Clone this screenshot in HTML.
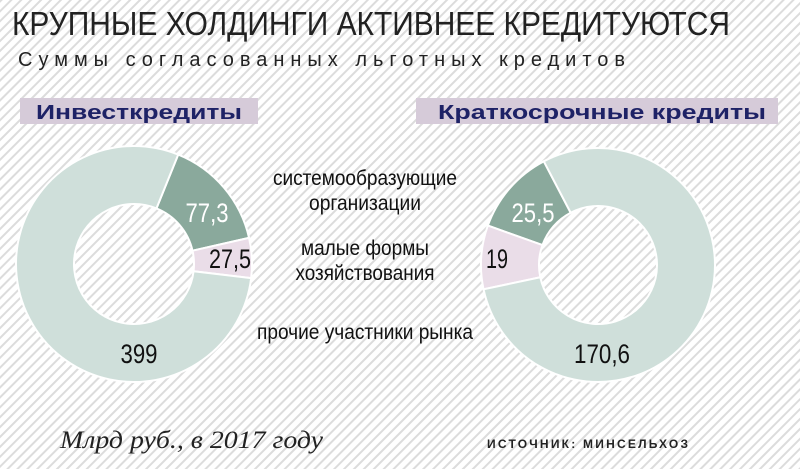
<!DOCTYPE html>
<html><head><meta charset="utf-8"><style>
html,body{margin:0;padding:0;background:#fff;}
svg{display:block;}
text{font-family:"Liberation Sans","Noto Sans CJK SC",sans-serif;}
</style></head><body>
<svg id="s" width="800" height="469" viewBox="0 0 800 469" xmlns="http://www.w3.org/2000/svg">
<defs>
<pattern id="st" width="7" height="7" patternUnits="userSpaceOnUse" patternTransform="rotate(45)">
<rect width="7" height="7" fill="#fff"/>
<rect x="0" y="0" width="2" height="7" fill="#dcdcdc"/>
</pattern>
</defs>
<rect width="800" height="469" fill="url(#st)"/>
<text x="12" y="35" font-size="33" fill="#222" textLength="718" lengthAdjust="spacingAndGlyphs">КРУПНЫЕ ХОЛДИНГИ АКТИВНЕЕ КРЕДИТУЮТСЯ</text>
<text x="18" y="66" font-size="20" fill="#222" textLength="607" lengthAdjust="spacing">Суммы согласованных льготных кредитов</text>
<rect x="20" y="98" width="238" height="26" fill="#d6cbd9"/>
<text x="36" y="119" font-size="20" font-weight="bold" fill="#1e2266" textLength="206" lengthAdjust="spacingAndGlyphs">Инвесткредиты</text>
<rect x="416" y="98" width="362" height="26" fill="#d6cbd9"/>
<text x="438" y="119" font-size="20" font-weight="bold" fill="#1e2266" textLength="328" lengthAdjust="spacingAndGlyphs">Краткосрочные кредиты</text>
<g id="donuts"></g>
<g font-size="21" fill="#111" text-anchor="middle">
<text x="365" y="185" textLength="184" lengthAdjust="spacingAndGlyphs">системообразующие</text>
<text x="365" y="210" textLength="112" lengthAdjust="spacingAndGlyphs">организации</text>
<text x="365" y="255" textLength="128" lengthAdjust="spacingAndGlyphs">малые формы</text>
<text x="365" y="280" textLength="139" lengthAdjust="spacingAndGlyphs">хозяйствования</text>
<text x="365" y="339" textLength="216" lengthAdjust="spacingAndGlyphs">прочие участники рынка</text>
</g>
<g font-size="27" text-anchor="middle">
<text x="207" y="222" fill="#fff" textLength="43" lengthAdjust="spacingAndGlyphs">77,3</text>
<text x="230" y="268" fill="#111" textLength="42" lengthAdjust="spacingAndGlyphs">27,5</text>
<text x="139" y="363" fill="#111" textLength="37" lengthAdjust="spacingAndGlyphs">399</text>
<text x="533" y="222" fill="#fff" textLength="43" lengthAdjust="spacingAndGlyphs">25,5</text>
<text x="497" y="268" fill="#111" textLength="22" lengthAdjust="spacingAndGlyphs">19</text>
<text x="602" y="363" fill="#111" textLength="56" lengthAdjust="spacingAndGlyphs">170,6</text>
</g>
<text x="60" y="448" style="font-family:'Liberation Serif',serif;font-style:italic" font-size="25" fill="#222" textLength="263" lengthAdjust="spacingAndGlyphs">Млрд руб., в 2017 году</text>
<text x="487" y="448" font-size="12" font-weight="bold" fill="#222" textLength="201" lengthAdjust="spacing">ИСТОЧНИК: МИНСЕЛЬХОЗ</text>
</svg>
<script>
function arc(cx,cy,R,r,a0,a1,fill){
 function p(rad,a){var t=(a-90)*Math.PI/180;return [cx+rad*Math.cos(t),cy+rad*Math.sin(t)];}
 var l=(a1-a0)>180?1:0,A=p(R,a0),B=p(R,a1),C=p(r,a1),D=p(r,a0);
 return '<path d="M'+A+' A'+R+','+R+' 0 '+l+' 1 '+B+' L'+C+' A'+r+','+r+' 0 '+l+' 0 '+D+' Z" fill="'+fill+'" stroke="#fff" stroke-width="2"/>';
}
var L='#cfdfda',D='#8aa99c',P='#eadde8',h='';
h+=arc(134,264,118,60,22,77.2,D);
h+=arc(134,264,118,60,77.2,96.9,P);
h+=arc(134,264,118,60,96.9,382,L);
h+=arc(598,265,117,59,-70.3,-27.6,D);
h+=arc(598,265,117,59,-102,-70.3,P);
h+=arc(598,265,117,59,-27.6,258,L);
document.getElementById('donuts').innerHTML=h;
</script>
</body></html>
